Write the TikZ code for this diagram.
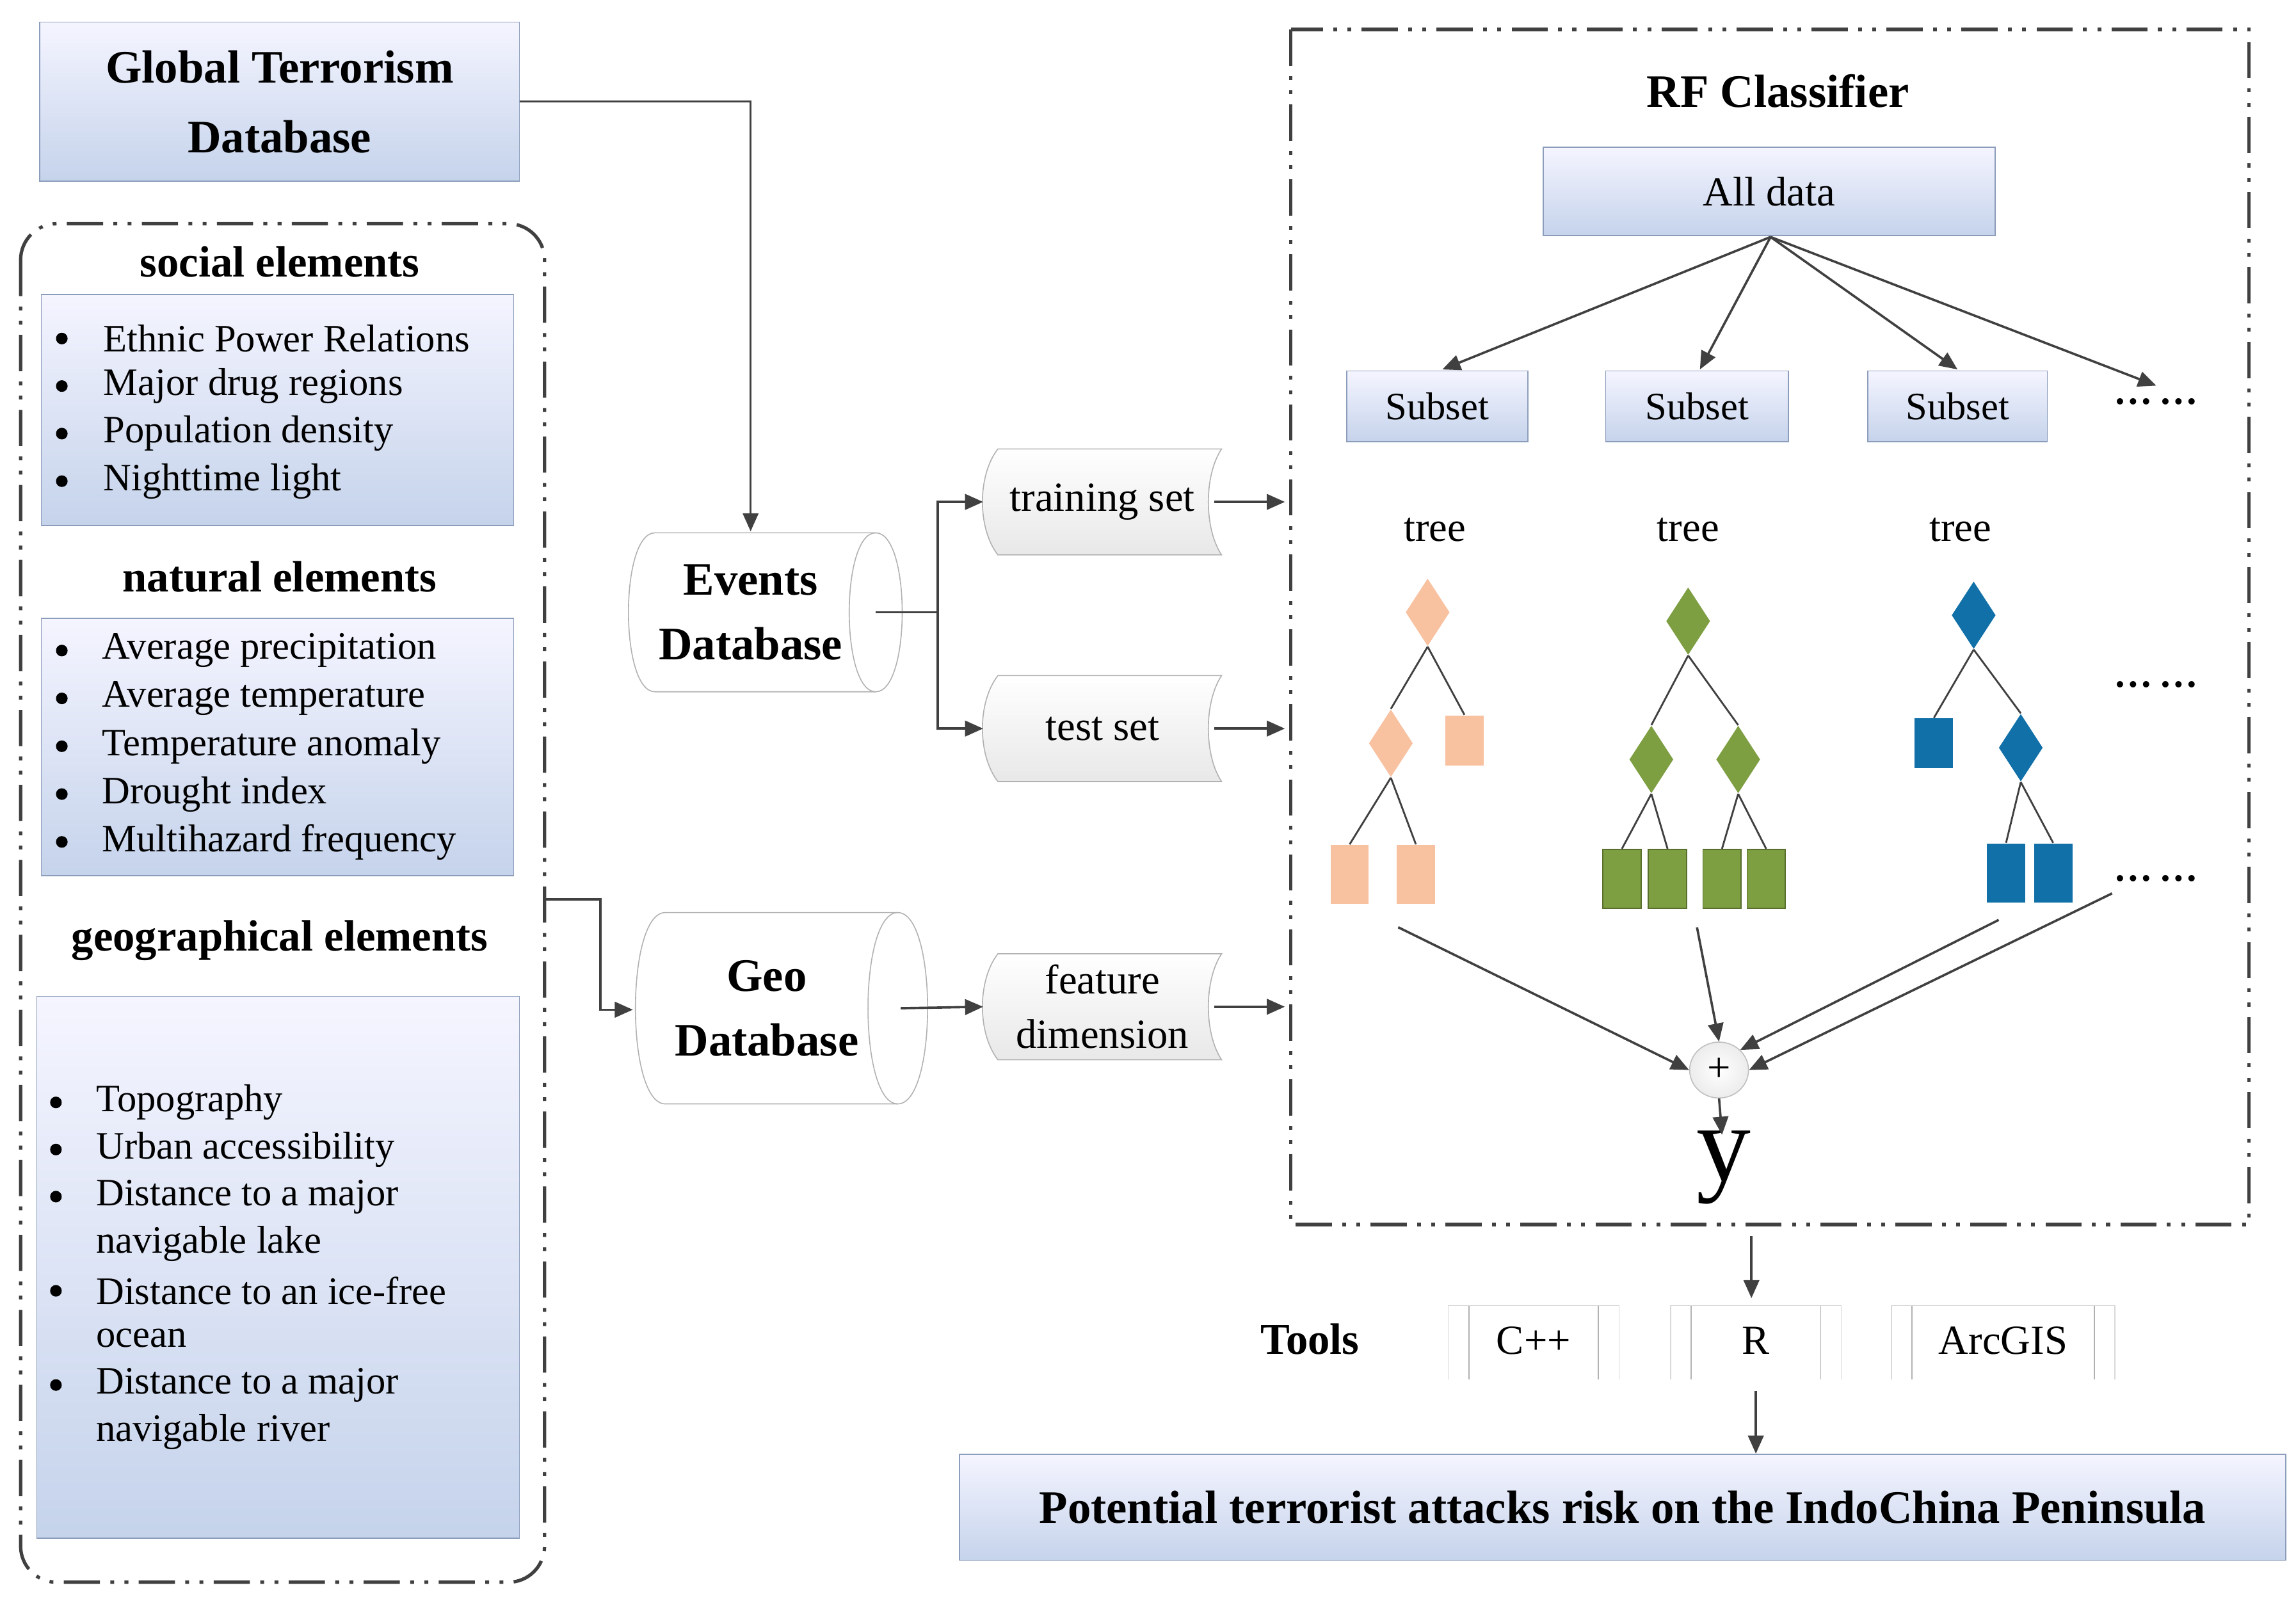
\documentclass[tikz,border=0pt]{standalone}
\usepackage{fontspec}
\setmainfont{Liberation Serif}
\usetikzlibrary{arrows.meta,shapes.geometric}
\definecolor{bfill}{HTML}{C5D3EB}
\definecolor{bline}{HTML}{8C9DBB}
\definecolor{lc}{HTML}{404040}
\definecolor{orf}{HTML}{F8C1A0}
\definecolor{grf}{HTML}{7E9E42}
\definecolor{blf}{HTML}{1170A8}
\tikzset{
 bbox/.style={draw=bline,top color=blue!4!white,bottom color=bfill,inner sep=0},
 arr/.style={draw=lc,line width=0.9pt,-{Triangle[length=7pt,width=6pt]}},
 ln/.style={draw=lc,line width=0.9pt},
 itm/.style={font=\fontsize{15}{18}\selectfont,anchor=west,inner sep=0},
 hd/.style={font=\fontsize{17}{20}\selectfont\bfseries,inner sep=0},
 bul/.style={circle,fill=black,inner sep=0,minimum size=4.5pt},
 dd/.style={draw=lc,line width=1.3pt,dash pattern=on 14pt off 4pt on 1.5pt off 4pt on 1.5pt off 4pt},
 tape/.style={draw=gray!60,top color=white,bottom color=gray!18},
 orD/.style={diamond,fill=orf,draw=orf!90!black,minimum width=30pt*0.02/0.0352,inner sep=0},
}
\begin{document}
\begin{tikzpicture}[x=0.02cm,y=-0.02cm]
\useasboundingbox (0,0) rectangle (1560,1086);
% Global Terrorism Database
\node[bbox,minimum width=326*0.02cm,minimum height=108*0.02cm,align=center,font=\fontsize{18}{21}\selectfont\bfseries] (gtd) at (190,69) {Global Terrorism\\[6pt]Database};
% left group
\draw[dd,rounded corners=14pt] (14,152) rectangle (370,1075);
\node[hd] (sh) at (190,178) {social elements};
\node[bbox,minimum width=321*0.02cm,minimum height=157*0.02cm] (sb) at (188.5,278.5) {};
\foreach \t[count=\i] in {Ethnic Power Relations,Major drug regions,Population density,Nighttime light}{
 \node[bul] at (42,{230+32.3*(\i-1)}) {};
 \node[itm] at (70,{230+32.3*(\i-1)}) {\t};}
\node[hd] (nh) at (190,392) {natural elements};
\node[bbox,minimum width=321*0.02cm,minimum height=175*0.02cm] (nb) at (188.5,507.5) {};
\foreach \t[count=\i] in {Average precipitation,Average temperature,Temperature anomaly,Drought index,Multihazard frequency}{
 \node[bul] at (42,{442+32.5*(\i-1)}) {};
 \node[itm] at (69,{442+32.5*(\i-1)}) {\t};}
\node[hd] (gh) at (190,639) {geographical elements};
\node[bbox,minimum width=328*0.02cm,minimum height=368*0.02cm] (gb) at (189,861) {};
\foreach \y/\t in {749/Topography,781/Urban accessibility,813/Distance to a major,877/Distance to an ice-free,941/Distance to a major}{
 \node[bul] at (38,\y) {};
 \node[itm] at (65,\y) {\t};}
\foreach \y/\t in {845/navigable lake,909/ocean,973/navigable river}{
 \node[itm] at (65,\y) {\t};}
% Events database cylinder
\node[font=\fontsize{18}{21}\selectfont\bfseries,align=center,inner sep=0] (ev) at (510,416) {Events\\[4pt]Database};
\draw[draw=gray!60] (445,362) -- (595,362) .. controls (619,362) and (619,470) .. (595,470) -- (445,470) .. controls (421,470) and (421,362) .. (445,362);
\draw[draw=gray!60] (595,362) .. controls (571,362) and (571,470) .. (595,470);
\coordinate (evr) at (595,416);
\node[font=\fontsize{18}{21}\selectfont\bfseries,align=center,inner sep=0] (geo) at (521,685) {Geo\\[4pt]Database};
\draw[draw=gray!60] (452,620) -- (610,620) .. controls (637,620) and (637,750) .. (610,750) -- (452,750) .. controls (425,750) and (425,620) .. (452,620);
\draw[draw=gray!60] (610,620) .. controls (583,620) and (583,750) .. (610,750);
\coordinate (geor) at (612,685);
\coordinate (geol) at (430,686);
\coordinate (evt) at (510,361);
% tapes
\foreach \n/\y/\h in {tr/341/72,te/495/72,fd/684/72}{
 \draw[tape] (678,\y-\h/2) -- (830,\y-\h/2) .. controls (818,\y-\h/4) and (818,\y+\h/4) .. (830,\y+\h/2) -- (678,\y+\h/2) .. controls (664,\y+\h/4) and (664,\y-\h/4) .. (678,\y-\h/2) -- cycle;
 \coordinate (\n l) at (668,\y);
 \coordinate (\n r) at (825,\y);
 \coordinate (\n e) at (873,\y);}
\node[font=\fontsize{16}{19}\selectfont,inner sep=0] (trn) at (749,341) {training set};
\node[font=\fontsize{16}{19}\selectfont,inner sep=0] (ten) at (749,495) {test set};
\node[font=\fontsize{16}{19}\selectfont,inner sep=0,align=center] (fdn) at (749,684) {feature\\[2pt]dimension};
% connectors left
\draw[arr] (gtd.east) -- (510,69) -- (evt);
\draw[arr] (370,611) -- (408,611) -- (408,686) -- (geol);
\draw[ln] (evr) -- (637,416);
\draw[arr] (637,416) |- (trl);
\draw[arr] (637,416) |- (tel);
\draw[arr] (geor) -- (fdl);
\draw[arr] (trr) -- (tre);
\draw[arr] (ter) -- (tee);
\draw[arr] (fdr) -- (fde);
% RF box
\draw[dd] (877,20) rectangle (1528,832);
\node[font=\fontsize{18}{21}\selectfont\bfseries,inner sep=0] (rf) at (1208,62) {RF Classifier};
\node[bbox,minimum width=307*0.02cm,minimum height=60*0.02cm,font=\fontsize{16}{19}\selectfont] (all) at (1202,130) {All data};
\foreach \n/\x/\w in {s1/976.5/123,s2/1153/124,s3/1330/122}{
 \node[bbox,minimum width=\w*0.02cm,minimum height=48*0.02cm,font=\fontsize{15}{18}\selectfont] (\n) at (\x,276) {Subset};}
\node[font=\fontsize{15}{18}\selectfont,inner sep=0] (sd) at (1465,273) {\textbf{\dots\,\dots}};
\coordinate (apex) at (1203,161);
\draw[arr] (apex) -- (980,251);
\draw[arr] (apex) -- (1155,251);
\draw[arr] (apex) -- (1330,251);
\draw[arr] (apex) -- (1465,262);
\foreach \x in {975,1147,1332}{\node[font=\fontsize{16}{19}\selectfont,inner sep=0] at (\x,360) {tree};}
% trees
\tikzset{dia/.style={diamond,minimum width=30*0.02cm,minimum height=46*0.02cm,inner sep=0,shape aspect=0.65},
 sq/.style={rectangle,minimum width=26*0.02cm,minimum height=38*0.02cm,inner sep=0}}
% orange
\node[dia,fill=orf] (o1) at (970,416) {};
\node[dia,fill=orf] (o2) at (945,505) {};
\node[sq,fill=orf,minimum height=34*0.02cm] (o3) at (995,503) {};
\node[sq,fill=orf,minimum height=40*0.02cm] (o4) at (917,594) {};
\node[sq,fill=orf,minimum height=40*0.02cm] (o5) at (962,594) {};
\draw[ln,line width=0.7pt] (o1.south) -- (o2.north) (o1.south) -- (o3.north) (o2.south) -- (o4.north) (o2.south) -- (o5.north);
% green
\node[dia,fill=grf] (g1) at (1147,422) {};
\node[dia,fill=grf] (g2) at (1122,516) {};
\node[dia,fill=grf] (g3) at (1181,516) {};
\foreach \n/\x in {g4/1102,g5/1133,g6/1170,g7/1200}{\node[sq,fill=grf,draw=grf!70!black,line width=0.4pt,minimum height=40*0.02cm] (\n) at (\x,597) {};}
\draw[ln,line width=0.7pt] (g1.south) -- (g2.north) (g1.south) -- (g3.north) (g2.south) -- (g4.north) (g2.south) -- (g5.north) (g3.south) -- (g6.north) (g3.south) -- (g7.north);
% blue
\node[dia,fill=blf] (b1) at (1341,418) {};
\node[sq,fill=blf,minimum height=34*0.02cm] (b2) at (1314,505) {};
\node[dia,fill=blf] (b3) at (1373,508) {};
\node[sq,fill=blf,minimum height=40*0.02cm] (b4) at (1363,593) {};
\node[sq,fill=blf,minimum height=40*0.02cm] (b5) at (1395,593) {};
\draw[ln,line width=0.7pt] (b1.south) -- (b2.north) (b1.south) -- (b3.north) (b3.south) -- (b4.north) (b3.south) -- (b5.north);
\node[font=\fontsize{15}{18}\selectfont,inner sep=0] (d2) at (1465,465) {\textbf{\dots\,\dots}};
\node[font=\fontsize{15}{18}\selectfont,inner sep=0] (d3) at (1465,597) {\textbf{\dots\,\dots}};
% sum
\node[ellipse,draw=gray!50,inner color=white,outer color=gray!15,minimum width=40*0.02cm,minimum height=38*0.02cm,inner sep=0,font=\fontsize{16}{18}\selectfont] (plus) at (1168,727) {+};
\draw[arr] (950,630) -- (plus.west);
\draw[arr] (1153,630) -- (plus.north);
\draw[arr] (1358,625) -- (plus.north east);
\draw[arr] (1435,607) -- (plus.east);
\node[font=\fontsize{42}{44}\selectfont,inner sep=0] (yy) at (1171,793) {y};
\draw[arr] (plus.south) -- (1170,771);
% tools
\coordinate (rfb) at (1190,840);
\node[font=\fontsize{17}{20}\selectfont\bfseries,inner sep=0] (tools) at (890,910) {Tools};
\foreach \n/\a/\b/\t in {t1/984/1100/C++,t2/1135/1251/R,t3/1285/1437/ArcGIS}{
 \draw[gray!30] (\a,937) -- (\a,887) -- (\b,887) -- (\b,937);
 \draw[gray!60] (\a+14,887) -- (\a+14,937) (\b-14,887) -- (\b-14,937);
 \node[font=\fontsize{16}{19}\selectfont,inner sep=0] (\n) at ({(\a+\b)/2},911) {\t};}
\draw[arr] (rfb) -- (1190,882);
\node[bbox,minimum width=901*0.02cm,minimum height=72*0.02cm,font=\fontsize{18}{21}\selectfont\bfseries] (pot) at (1102.5,1024) {Potential terrorist attacks risk on the IndoChina Peninsula};
\draw[arr] (1193,945) -- (pot.north -| 1193,0);
\end{tikzpicture}
\end{document}
